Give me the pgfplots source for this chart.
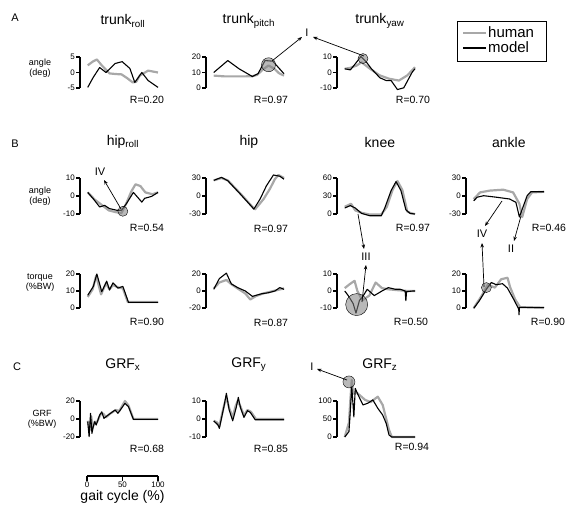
\documentclass[border=0pt]{standalone}
\usepackage{fontspec}
\setmainfont{Liberation Sans}
\usepackage{pgfplots}
\pgfplotsset{compat=1.18}
\usetikzlibrary{arrows.meta}
\definecolor{humgray}{gray}{0.66}
\definecolor{circgray}{gray}{0.5}
\pgfplotsset{
 panel/.style={scale only axis, width=78pt, anchor=south west, xmin=-11, xmax=100,
   axis x line=none, axis y line*=left, clip=false, xtick=\empty,
   tick align=outside, major tick length=4pt,
   axis line style={line width=1.3pt},
   major tick style={line width=1.2pt, black},
   y tick label style={font=\fontsize{8}{9}\selectfont, inner sep=1pt},
   /pgf/number format/assume math mode=true,
   title style={at={(0.55,1)}, anchor=center, yshift=30pt, font=\fontsize{14}{15}\selectfont}},
 human/.style={color=humgray, line width=2.2pt, line join=round, no marks},
 model/.style={black, line width=1.1pt, line join=round, no marks},
 hl/.style={only marks, mark=*, mark options={fill=circgray, draw=none, fill opacity=0.55}},
}
\begin{document}
\begin{tikzpicture}[x=1pt,y=1pt]
\useasboundingbox (0,0) rectangle (568,514);
% ---------------- Row A ----------------
\begin{axis}[panel, at={(80pt,426pt)}, height=31pt, ymin=-5, ymax=5, ytick={-5,0,5}, title={trunk\textsubscript{roll}}]
\addplot[human] coordinates {(0,2.3)(7,3.5)(13,4.2)(20,2.3)(31,-0.3)(40,-0.5)(48,-0.6)(56,-1.8)(64,-3.2)(69,-3.0)(74,-1)(86,0.6)(100,0)};
\addplot[model] coordinates {(0,-4.8)(8,-1.5)(17,1.6)(26,0)(39,2.9)(49,3.5)(60,1.3)(67,-3.2)(77,0)(86,-2.6)(100,-4.8)};
\end{axis}
\begin{axis}[panel, at={(206pt,426pt)}, height=31pt, ymin=0, ymax=20, ytick={0,10,20}, title={trunk\textsubscript{pitch}}]
\addplot[human] coordinates {(0,8)(15,7.5)(30,7.5)(45,7.5)(55,7.6)(62,8.5)(70,12)(78,14.5)(86,12.5)(93,9.5)(100,8)};
\addplot[model] coordinates {(0,10)(20,17.7)(36,12.4)(55,7.4)(63,9.2)(73,17.7)(84,17.3)(100,9.2)};
\addplot[hl, mark size=7pt] coordinates {(78,15)};
\end{axis}
\begin{axis}[panel, at={(337pt,426pt)}, height=31pt, ymin=-10, ymax=10, ytick={-10,0,10}, title={trunk\textsubscript{yaw}}]
\addplot[human] coordinates {(0,2.4)(8,3)(17,4.5)(24,6.6)(36,2.4)(50,-1.9)(63,-4)(77,-5.2)(89,-1.9)(100,3.4)};
\addplot[model] coordinates {(0,2.4)(8,1.7)(15,5.6)(23,10.3)(31,6.6)(38,2.4)(50,-3.4)(59,-5.2)(66,-5.2)(75,-11)(84,-9.9)(96,0.2)(100,2.4)};
\addplot[hl, mark size=5pt] coordinates {(26,9)};
\end{axis}
% ---------------- Row B angles ----------------
\begin{axis}[panel, at={(80pt,300pt)}, height=36pt, ymin=-10, ymax=10, ytick={-10,0,10}, title={hip\textsubscript{roll}}]
\addplot[human] coordinates {(0,2)(10,-2)(20,-5)(30,-8)(40,-9)(48,-9.5)(55,-4)(62,2.5)(68,6.5)(75,5.5)(82,2)(92,1)(100,2)};
\addplot[model] coordinates {(0,2)(8,-1.6)(17,-6.1)(24,-5.2)(31,-7)(41,-7.9)(48,-7.9)(55,-4.3)(65,2)(69,0.2)(77,-3.4)(81,-1.3)(91,-0.2)(100,2)};
\addplot[hl, mark size=5pt] coordinates {(50,-8.5)};
\end{axis}
\begin{axis}[panel, at={(206pt,300pt)}, height=36pt, ymin=-30, ymax=30, ytick={-30,0,30}, title={hip}]
\addplot[human] coordinates {(0,26)(11,30)(20,26)(38,4)(55,-18)(59,-22)(71,-5)(80,12)(87,28)(92,35)(100,30)};
\addplot[model] coordinates {(0,26)(11,31)(20,25.5)(38,3)(55,-19)(57,-22)(66,-5)(75,17)(85,35)(94,33)(100,28)};
\end{axis}
\begin{axis}[panel, at={(337pt,300pt)}, height=36pt, ymin=0, ymax=60, ytick={0,30,60}, title={knee}]
\addplot[human] coordinates {(0,12)(9,17)(15,6)(24,2)(36,-1)(52,-1)(60,12)(68,40)(75,55)(82,40)(89,4)(95,1)(100,0)};
\addplot[model] coordinates {(0,10)(8,14)(15,10)(24,1)(36,-3)(52,-3)(57,10)(66,39)(73,54)(80,39)(87,7)(93,1)(100,0)};
\end{axis}
\begin{axis}[panel, at={(466pt,300pt)}, height=36pt, ymin=-30, ymax=30, ytick={-30,0,30}, title={ankle}]
\addplot[human] coordinates {(0,-5)(9,6)(23,9)(42,10.5)(56,6)(65,-13)(69,-35)(76,-5)(83,6)(100,7)};
\addplot[model] coordinates {(0,-8)(5,-2)(14,0.5)(32,-2)(51,-5)(60,-10.5)(65,-35)(69,-22)(76,0.5)(81,7)(100,7)};
\end{axis}
% ---------------- Row B torques ----------------
\begin{axis}[panel, at={(80pt,206pt)}, height=34pt, ymin=0, ymax=20, ytick={0,10,20}]
\addplot[human] coordinates {(0,6.5)(7,11)(12,19)(19,8)(26,14.5)(31,11)(36,13.5)(44,12)(50,11.5)(57,3.5)(100,3.5)};
\addplot[model] coordinates {(0,7.5)(8,12.7)(13,20)(20,9.6)(27,15.8)(31,10.6)(36,14.8)(43,11.7)(50,12.7)(58,3.3)(100,3.3)};
\end{axis}
\begin{axis}[panel, at={(206pt,206pt)}, height=34pt, ymin=-20, ymax=20, ytick={-20,0,20}]
\addplot[human] coordinates {(0,3)(8,10)(18,13)(25,8)(34,3)(45,-3)(52,-10)(60,-6)(70,-3)(80,-1)(90,1)(100,3)};
\addplot[model] coordinates {(0,2)(8,14.6)(18,21)(25,8.4)(34,4)(45,0)(55,-6.3)(68,-3.3)(78,-2)(87,0)(94,4)(100,2)};
\end{axis}
\begin{axis}[panel, at={(337pt,206pt)}, height=34pt, ymin=-10, ymax=10, ytick={-10,0,10}]
\addplot[hl, mark size=11pt] coordinates {(17,-8)};
\addplot[human] coordinates {(0,1.7)(7,4)(14,6)(18,0)(25,-5.5)(35,-2.7)(44,5)(53,1.7)(62,1)(75,0.5)(90,0)(100,0)};
\addplot[model] coordinates {(0,0)(5,-2.7)(12,-7.4)(16,-13)(21,-5.5)(25,-3.7)(32,1)(42,-2.7)(53,0)(62,2)(72,1)(79,1)(86,0)(87,-5.7)(88,-0.4)(97,0)(100,0)};
\end{axis}
\begin{axis}[panel, at={(466pt,206pt)}, height=34pt, ymin=0, ymax=20, ytick={0,10,20}]
\addplot[human] coordinates {(0,0)(11,7)(20,13.7)(30,12)(39,16.9)(48,17.8)(52,12)(59,5)(66,0.5)(100,0)};
\addplot[model] coordinates {(0,-0.2)(8,4.3)(18,11)(25,15)(32,13.7)(41,14.3)(48,11.7)(57,5)(64,-0.6)(64.5,-4)(65,0.4)(69,0.4)(100,0.4)};
\addplot[hl, mark size=5pt] coordinates {(18,12)};
\end{axis}
% ---------------- Row C ----------------
\begin{axis}[panel, at={(80pt,77pt)}, height=36pt, ymin=-20, ymax=20, ytick={-20,0,20}, title={GRF\textsubscript{x}}]
\addplot[human] coordinates {(0,-2)(3,-12)(5,3)(7,-10)(10,-3)(13,-4)(18,5)(22,6)(26,2)(32,6)(40,10)(45,9)(53,20)(58,15)(65,0)(100,0)};
\addplot[model] coordinates {(0,-3)(2,-19.6)(4,6.3)(6,-16)(8,-8)(10,-3)(12,-6.7)(17,4.4)(20,8)(23,0.7)(29,4.4)(39,10)(43,6.3)(53,17.4)(58,13.7)(65,-0.4)(100,-0.4)};
\end{axis}
\begin{axis}[panel, at={(206pt,77pt)}, height=36pt, ymin=-10, ymax=10, ytick={-10,0,10}, title={GRF\textsubscript{y}}]
\addplot[human] coordinates {(0,-1)(5,-2)(8,-4)(12,3)(15,8)(18,12)(22,6)(27,1)(31,7)(34,10)(38,7)(43,2)(48,5)(53,4)(60,0)(100,0)};
\addplot[model] coordinates {(0,-1)(6,-3.3)(8,-5.2)(12,2.2)(15,7.8)(18,14.3)(22,5)(27,-1)(32,6.4)(35,12)(38,6.4)(43,0.9)(48,4.6)(52,3.7)(59,-0.4)(100,-0.4)};
\end{axis}
\begin{axis}[panel, at={(337pt,77pt)}, height=36pt, ymin=0, ymax=100, ytick={0,50,100}, title={GRF\textsubscript{z}}]
\addplot[human] coordinates {(0,0)(6,40)(8,103)(10,158)(12,120)(15,125)(19,120)(29,103)(37,97)(47,112)(54,89)(63,20)(67,0)(100,0)};
\addplot[model] coordinates {(0,0)(6,15)(8,75)(10,140)(13,56)(15,135)(19,117)(26,89)(33,94)(40,103)(47,80)(54,61)(59,38)(63,5.6)(67,0)(100,0)};
\addplot[hl, mark size=6pt] coordinates {(6,153)};
\end{axis}
% ---------------- gait cycle scale bar ----------------
\begin{axis}[scale only axis, anchor=south west, at={(87pt,38pt)}, width=71pt, height=1pt,
  xmin=0, xmax=100, ymin=0, ymax=1, axis y line=none, axis x line*=bottom,
  xtick={0,50,100}, tick align=outside, major tick length=5pt,
  axis line style={line width=1.2pt}, major tick style={line width=1.2pt, black},
  x tick label style={font=\fontsize{8}{9}\selectfont, inner sep=1pt},
  /pgf/number format/assume math mode=true,
  xlabel={gait cycle (\%)}, xlabel style={font=\fontsize{14}{15}\selectfont, inner sep=0pt, yshift=-1pt}]
\addplot[draw=none] coordinates {(0,0)(100,0)};
\end{axis}
% ---------------- annotations (pixel coords, y downward) ----------------
\begin{scope}[shift={(0,514)}, yscale=-1]
\tikzset{arr/.style={-{Stealth[length=4.5pt,width=3.5pt]}, line width=0.7pt}}
\node[font=\fontsize{11}{12}\selectfont] at (15,18) {A};
\node[font=\fontsize{11}{12}\selectfont] at (15,144) {B};
\node[font=\fontsize{11}{12}\selectfont] at (17,367) {C};
% y labels
\node[font=\fontsize{9}{10}\selectfont, align=center] at (40,68) {angle\\(deg)};
\node[font=\fontsize{9}{10}\selectfont, align=center] at (40,196) {angle\\(deg)};
\node[font=\fontsize{9}{10}\selectfont, align=center] at (40,283) {torque\\(\%BW)};
\node[font=\fontsize{9}{10}\selectfont, align=center] at (42,419) {GRF\\(\%BW)};
% R values
\tikzset{rv/.style={font=\fontsize{10.5}{11}\selectfont}}
\node[rv] at (147,100) {R=0.20};
\node[rv] at (271,100) {R=0.97};
\node[rv] at (413,100) {R=0.70};
\node[rv] at (147,228) {R=0.54};
\node[rv] at (271,229) {R=0.97};
\node[rv] at (413,228) {R=0.97};
\node[rv] at (549,228) {R=0.46};
\node[rv] at (147,322) {R=0.90};
\node[rv] at (271,323) {R=0.87};
\node[rv] at (411,322) {R=0.50};
\node[rv] at (548,322) {R=0.90};
\node[rv] at (147,449) {R=0.68};
\node[rv] at (271,449) {R=0.85};
\node[rv] at (412,447) {R=0.94};
% roman numerals and arrows
\tikzset{rn/.style={font=\fontsize{11}{12}\selectfont}}
\node[rn] at (307,33) {I};
\draw[arr] (272,61) -- (302,37);
\draw[arr] (364,56) -- (313,37);
\node[rn] at (100,172) {IV};
\draw[arr] (121,209) -- (104,180);
\node[rn] at (366,257) {III};
\draw[arr] (358,214) -- (364,249);
\draw[arr] (362,302) -- (366,265);
\node[rn] at (482,234) {IV};
\draw[arr] (502,201) -- (485,226);
\draw[arr] (484,287) -- (482,243);
\node[rn] at (511,249) {II};
\draw[arr] (521,216) -- (514,241);
\node[rn] at (312,367) {I};
\draw[arr] (347,380) -- (317,369);
% legend
\draw[line width=1pt] (457,22) rectangle (546,62);
\draw[humgray, line width=2.2pt] (463,33) -- (486,33);
\draw[black, line width=1.1pt] (463,48) -- (486,48);
\node[anchor=west, inner sep=0pt, font=\fontsize{15}{16}\selectfont] at (488,32) {human};
\node[anchor=west, inner sep=0pt, font=\fontsize{15}{16}\selectfont] at (488,47) {model};
\end{scope}
\end{tikzpicture}
\end{document}
